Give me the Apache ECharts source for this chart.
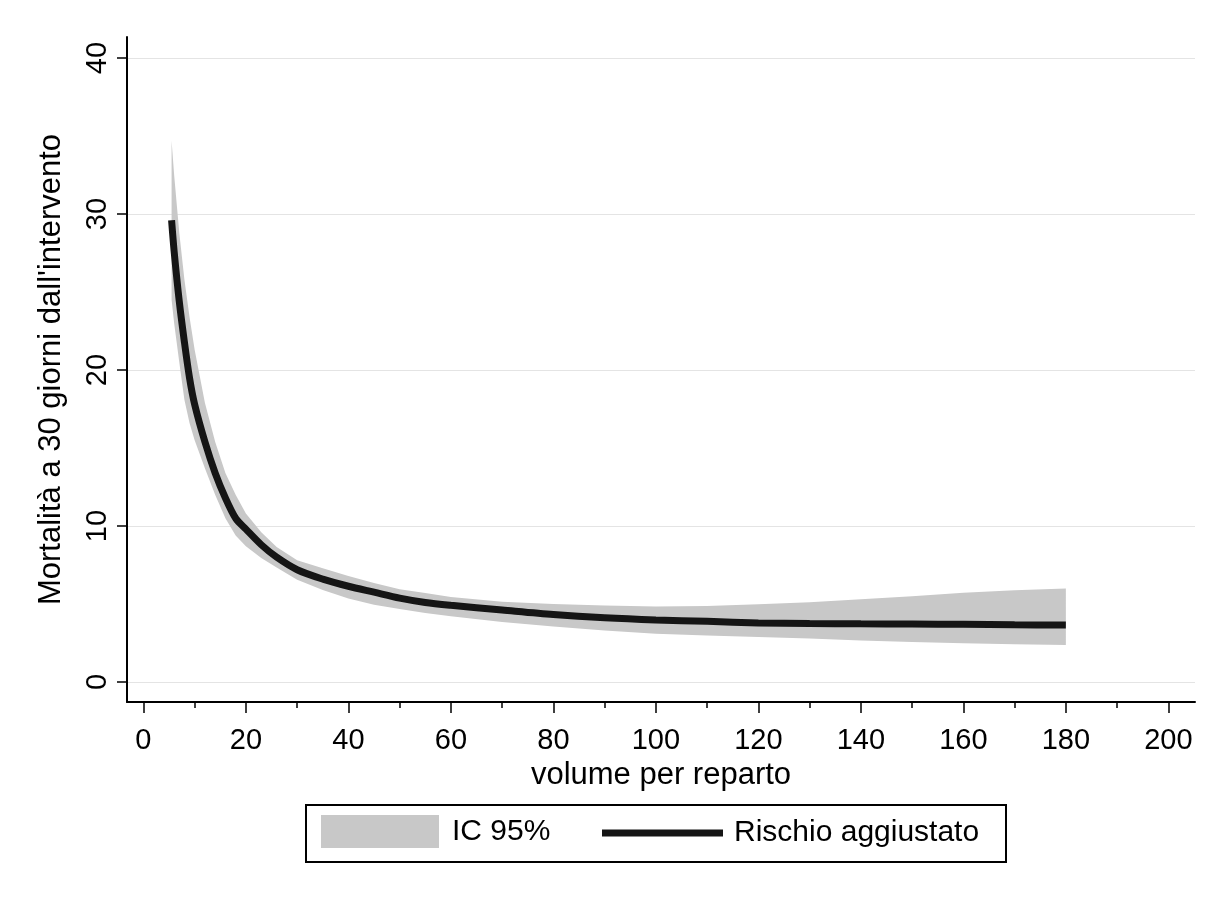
<!DOCTYPE html>
<html>
<head>
<meta charset="utf-8">
<script src="https://cdn.jsdelivr.net/npm/echarts@6/dist/echarts.min.js"></script>
<style>
  html, body { margin: 0; padding: 0; background: #fff; }
  #chart { width: 1207px; height: 898px; }
</style>
</head>
<body>
<div id="chart"></div>
<script>
// volume per reparto
const volume = [5.5, 6, 7, 8, 9, 10, 12, 14, 16, 18, 20, 23, 26, 30, 35, 40, 45, 50, 55, 60,
  70, 80, 90, 100, 110, 120, 130, 140, 150, 160, 170, 180];
// rischio aggiustato (mortalita a 30 giorni)
const rischio = [29.6, 27.6, 24.4, 21.8, 19.5, 17.8, 15.4, 13.4, 11.8, 10.5, 9.8, 8.8, 8.0, 7.2, 6.6, 6.14, 5.76, 5.38, 5.1, 4.92,
  4.62, 4.33, 4.12, 3.98, 3.89, 3.79, 3.75, 3.73, 3.72, 3.7, 3.67, 3.65];
// IC 95%
const icLower = [24.5, 23.0, 20.5, 18.1, 16.6, 15.5, 13.7, 12.0, 10.5, 9.4, 8.7, 7.95, 7.35, 6.55, 5.9, 5.35, 4.95, 4.68, 4.43, 4.22,
  3.85, 3.56, 3.3, 3.1, 2.98, 2.89, 2.79, 2.67, 2.57, 2.49, 2.43, 2.37];
const icUpper = [34.7, 32.5, 28.8, 25.8, 23.4, 21.3, 17.9, 15.4, 13.4, 12.0, 10.8, 9.6, 8.65, 7.8, 7.3, 6.8, 6.35, 5.95, 5.7, 5.45,
  5.15, 5.0, 4.9, 4.85, 4.87, 4.98, 5.12, 5.3, 5.5, 5.72, 5.88, 6.0];

const xTicks = [0, 20, 40, 60, 80, 100, 120, 140, 160, 180, 200];
const xMinorTicks = [10, 30, 50, 70, 90, 110, 130, 150, 170, 190];
const yTicks = [0, 10, 20, 30, 40];

const font = '"Liberation Sans", Arial, sans-serif';
const bandColor = '#c8c8c8';
const lineColor = '#151515';

const myChart = echarts.init(document.getElementById('chart'), null, { renderer: 'canvas' });

// banda IC: poligono sopra (upper) e ritorno sotto (lower)
function renderBand(params, api) {
  if (params.dataIndex !== 0) return;
  const pts = [];
  for (let i = 0; i < volume.length; i++) pts.push(api.coord([volume[i], icUpper[i]]));
  for (let i = volume.length - 1; i >= 0; i--) pts.push(api.coord([volume[i], icLower[i]]));
  return {
    type: 'polygon',
    shape: { points: pts },
    style: { fill: bandColor, stroke: null }
  };
}

const option = {
  animation: false,
  backgroundColor: '#ffffff',
  textStyle: { fontFamily: font, color: '#000' },
  grid: { left: 127, right: 12, top: 37, bottom: 196 },
  xAxis: [{
    type: 'value',
    min: -3.2,
    max: 205.2,
    name: 'volume per reparto',
    nameLocation: 'middle',
    nameGap: 56,
    nameTextStyle: { fontSize: 31, color: '#000', fontFamily: font },
    axisLine: { onZero: false, lineStyle: { color: '#000', width: 2 } },
    axisTick: { customValues: xTicks, length: 11, lineStyle: { color: '#000', width: 1.5 } },
    axisLabel: { customValues: xTicks, fontSize: 29, color: '#000', margin: 24, fontFamily: font },
    splitLine: { show: false }
  }, {
    type: 'value',
    min: -3.2,
    max: 205.2,
    position: 'bottom',
    axisLine: { show: false, onZero: false },
    axisTick: { customValues: xMinorTicks, length: 6, lineStyle: { color: '#000', width: 1.5 } },
    axisLabel: { show: false },
    splitLine: { show: false }
  }],
  yAxis: {
    type: 'value',
    min: -1.28,
    max: 41.35,
    name: "Mortalità a 30 giorni dall'intervento",
    nameLocation: 'middle',
    nameRotate: 90,
    nameGap: 60,
    nameTextStyle: { fontSize: 31, color: '#000', fontFamily: font },
    axisLine: { onZero: false, lineStyle: { color: '#000', width: 2 } },
    axisTick: { customValues: yTicks, length: 10, lineStyle: { color: '#000', width: 1.5 } },
    axisLabel: { customValues: yTicks, rotate: 90, fontSize: 29, color: '#000', margin: 15, fontFamily: font },
    splitLine: { show: true, lineStyle: { color: '#e4e4e4', width: 1 } }
  },
  legend: [{
    data: [{ name: 'IC 95%', icon: 'rect' }],
    left: 316,
    top: 810,
    itemWidth: 118,
    itemHeight: 33,
    itemStyle: { color: bandColor, borderWidth: 0 },
    textStyle: { fontSize: 30, color: '#000', fontFamily: font, padding: [0, 0, 0, 8] },
    selectedMode: false
  }, {
    data: [{ name: 'Rischio aggiustato', icon: 'rect' }],
    left: 597,
    top: 813,
    itemWidth: 121,
    itemHeight: 7,
    itemStyle: { color: lineColor, borderWidth: 0 },
    textStyle: { fontSize: 30, color: '#000', fontFamily: font, padding: [0, 0, 0, 6] },
    selectedMode: false
  }],
  graphic: [{
    type: 'rect',
    left: 305,
    top: 804,
    shape: { width: 700, height: 57 },
    style: { fill: '#fff', stroke: '#000', lineWidth: 2 },
    z: 0
  }],
  series: [{
    name: 'IC 95%',
    type: 'custom',
    silent: true,
    itemStyle: { color: bandColor },
    renderItem: renderBand,
    encode: { x: 0, y: [1, 2] },
    data: volume.map((v, i) => [v, icLower[i], icUpper[i]])
  }, {
    name: 'Rischio aggiustato',
    type: 'line',
    symbol: 'none',
    smooth: 0.3,
    itemStyle: { color: lineColor },
    lineStyle: { color: lineColor, width: 7 },
    data: volume.map((v, i) => [v, rischio[i]])
  }]
};

myChart.setOption(option);
</script>
</body>
</html>
